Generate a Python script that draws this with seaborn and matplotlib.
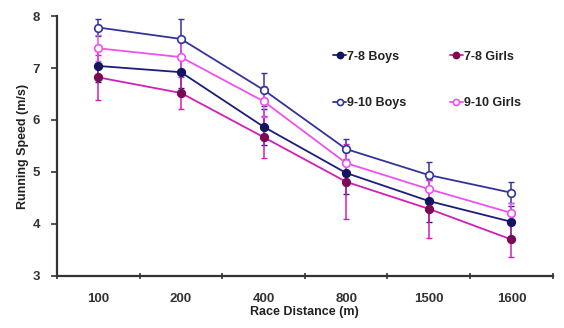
import matplotlib
matplotlib.use("Agg")
import matplotlib.pyplot as plt
import seaborn as sns
import pandas as pd
import numpy as np
from matplotlib.ticker import FixedLocator

categories = ["100", "200", "400", "800", "1500", "1600"]
series_names = ["7-8 Boys", "9-10 Boys", "7-8 Girls", "9-10 Girls"]

boys_78 = [7.04, 6.92, 5.87, 4.98, 4.44, 4.04]
girls_78 = [6.82, 6.52, 5.67, 4.81, 4.29, 3.70]
boys_910 = [7.78, 7.56, 6.58, 5.44, 4.94, 4.60]
girls_910 = [7.38, 7.21, 6.36, 5.17, 4.67, 4.21]

err_boys_78 = [0.30, 0.30, 0.35, 0.40, 0.40, 0.30]
err_girls_78 = [0.44, 0.30, 0.40, 0.72, 0.56, 0.34]
err_boys_910 = [0.17, 0.38, 0.32, 0.20, 0.25, 0.20]
err_girls_910 = [0.25, 0.30, 0.30, 0.25, 0.20, 0.20]

values = {"7-8 Boys": boys_78, "9-10 Boys": boys_910,
          "7-8 Girls": girls_78, "9-10 Girls": girls_910}
errors = {"7-8 Boys": err_boys_78, "9-10 Boys": err_boys_910,
          "7-8 Girls": err_girls_78, "9-10 Girls": err_girls_910}

line_colors = {"7-8 Boys": "#1c1c7a", "9-10 Boys": "#33339a",
               "7-8 Girls": "#d21fb8", "9-10 Girls": "#f050f0"}
marker_face = {"7-8 Boys": "#141460", "9-10 Boys": "white",
               "7-8 Girls": "#7a0a55", "9-10 Girls": "white"}
marker_edge = {"7-8 Boys": "#141460", "9-10 Boys": "#33339a",
               "7-8 Girls": "#7a0a55", "9-10 Girls": "#f050f0"}

rows = []
for s in series_names:
    for i, c in enumerate(categories):
        rows.append({"pos": i, "distance": c, "speed": values[s][i], "series": s})
df = pd.DataFrame(rows)

sns.set_theme(style="ticks")
plt.rcParams["font.family"] = ["Liberation Sans", "DejaVu Sans"]

fig = plt.figure(figsize=(5.64, 3.28), dpi=100)
ax = fig.add_axes([0.101, 0.159, 0.879, 0.792])

x = np.arange(len(categories))
for s in series_names:
    ax.errorbar(x, values[s], yerr=errors[s], fmt="none",
                ecolor=line_colors[s], elinewidth=1.1, capsize=2,
                capthick=1.0, zorder=2)

for s in series_names:
    sub = df[df["series"] == s]
    sns.lineplot(data=sub, x="pos", y="speed", ax=ax, color=line_colors[s],
                 linewidth=1.3, marker="o", markersize=5.5,
                 markerfacecolor=marker_face[s], markeredgecolor=marker_edge[s],
                 markeredgewidth=1.2, label=s, zorder=3)

ax.set_xlim(-0.5, len(categories) - 0.5)
ax.set_ylim(3, 8)
ax.set_yticks([3, 4, 5, 6, 7, 8])
ax.set_xticks(x)
ax.set_xticklabels(categories)
ax.xaxis.set_minor_locator(FixedLocator(np.arange(-0.5, len(categories), 1.0)))
ax.tick_params(axis="x", which="major", length=0, pad=12,
               labelsize=9.5, labelcolor="#333333")
ax.tick_params(axis="x", which="minor", length=4, width=1.2, color="#333333",
               direction="inout")
ax.tick_params(axis="y", length=4, width=1.2, color="#333333",
               labelsize=9.5, labelcolor="#333333", direction="out", pad=8)
for lab in ax.get_xticklabels() + ax.get_yticklabels():
    lab.set_fontweight("bold")

for side in ["top", "right"]:
    ax.spines[side].set_visible(False)
for side in ["left", "bottom"]:
    ax.spines[side].set_linewidth(1.6)
    ax.spines[side].set_color("#333333")

ax.set_xlabel("Race Distance (m)", fontsize=9, fontweight="bold",
              color="#222222", labelpad=1)
ax.set_ylabel("Running Speed (m/s)", fontsize=9, fontweight="bold",
              color="#222222", labelpad=3)

handles, labels = ax.get_legend_handles_labels()
order = [labels.index(n) for n in series_names]
leg = ax.legend([handles[i] for i in order], [labels[i] for i in order],
                ncol=2, frameon=False, loc="upper left",
                bbox_to_anchor=(0.535, 0.91), handlelength=1.0,
                handletextpad=0.1, columnspacing=3.5, labelspacing=2.75,
                markerscale=0.8,
                prop={"family": ["Liberation Sans", "DejaVu Sans"],
                      "weight": "bold", "size": 9})
for t in leg.get_texts():
    t.set_color("#222222")

fig.savefig("out.png", dpi=100)
